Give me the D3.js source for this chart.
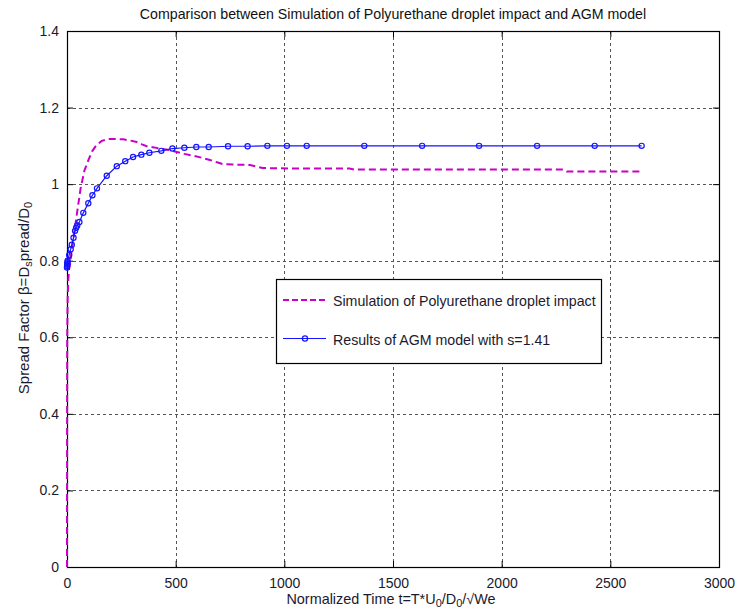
<!DOCTYPE html>
<html>
<head>
<meta charset="utf-8">
<script src="https://cdn.jsdelivr.net/npm/d3@7"></script>
<style>
  html, body { margin: 0; padding: 0; background: #fff; }
  svg { display: block; font-family: "Liberation Sans", Arial, sans-serif; }
</style>
</head>
<body>
<svg id="chart" width="735" height="612"></svg>
<script>
// Simulation of polyurethane droplet impact: normalized time and spread factor
const simTime = [0, 0.3, 0.6, 1, 3, 6, 10, 14, 20, 30, 40, 50, 63, 80, 98, 115, 133, 160, 190, 230, 259, 290, 321, 345, 367, 400, 428, 470, 505, 540, 581, 620, 658, 690, 719, 780, 842, 870, 900, 1041, 1300, 1320, 2284, 2300, 2644];
const simBeta = [0, 0.2, 0.4, 0.6, 0.7, 0.75, 0.78, 0.79, 0.82, 0.86, 0.9, 0.94, 0.99, 1.035, 1.062, 1.085, 1.1, 1.113, 1.118, 1.118, 1.117, 1.114, 1.11, 1.104, 1.099, 1.096, 1.093, 1.089, 1.084, 1.079, 1.074, 1.069, 1.063, 1.057, 1.052, 1.051, 1.05, 1.046, 1.042, 1.041, 1.041, 1.038, 1.038, 1.033, 1.033];

// AGM model results with s = 1.41
const agmTime = [0, 0.5, 1, 1.5, 2, 3, 10, 17, 22, 30, 37, 42, 47, 57, 75, 98, 117, 138, 183, 229, 268, 304, 342, 379, 434, 485, 540, 595, 652, 741, 831, 922, 1012, 1103, 1368, 1634, 1896, 2163, 2428, 2644];
const agmBeta = [0.782, 0.786, 0.79, 0.793, 0.796, 0.8, 0.815, 0.83, 0.842, 0.86, 0.878, 0.886, 0.892, 0.901, 0.925, 0.95, 0.971, 0.989, 1.022, 1.047, 1.06, 1.071, 1.077, 1.082, 1.087, 1.093, 1.095, 1.097, 1.097, 1.099, 1.099, 1.1, 1.1, 1.1, 1.1, 1.1, 1.1, 1.1, 1.1, 1.1];

// Axis ticks
const xTicks = [0, 500, 1000, 1500, 2000, 2500, 3000];
const yTicks = [0, 0.2, 0.4, 0.6, 0.8, 1, 1.2, 1.4];

const titleText = "Comparison between Simulation of Polyurethane droplet impact and AGM model";
const legendLabels = ["Simulation of Polyurethane droplet impact", "Results of AGM model with s=1.41"];

const simColor = "#c800c8";
const agmColor = "#1414ff";
const textColor = "#1a1a2e";

const margin = { left: 67, right: 16, top: 31, bottom: 45 };
const W = 735, H = 612;
const svg = d3.select("#chart");

const x = d3.scaleLinear().domain([0, 3000]).range([margin.left, W - margin.right]);
const y = d3.scaleLinear().domain([0, 1.4]).range([H - margin.bottom, margin.top]);

const x0 = x.range()[0], x1 = x.range()[1];
const y0 = y.range()[0], y1 = y.range()[1];

// Grid lines
const grid = svg.append("g").attr("stroke", "#555").attr("stroke-width", 1).attr("stroke-dasharray", "3,3");
grid.selectAll("line.gx").data(xTicks.slice(1, -1)).join("line")
  .attr("x1", d => Math.round(x(d)) + 0.5).attr("x2", d => Math.round(x(d)) + 0.5)
  .attr("y1", y1).attr("y2", y0);
grid.selectAll("line.gy").data(yTicks.slice(1, -1)).join("line")
  .attr("y1", d => Math.round(y(d)) + 0.5).attr("y2", d => Math.round(y(d)) + 0.5)
  .attr("x1", x0).attr("x2", x1);

// Axes with inward ticks on all four sides
const fmtY = d => d === 0 ? "0" : (d === 1 ? "1" : d3.format(".1f")(d));
const axisStyle = g => {
  g.select(".domain").remove();
  g.selectAll("text").attr("fill", textColor).style("font-size", "14px").style("font-family", "Liberation Sans, Arial, sans-serif");
  g.selectAll("line").attr("stroke", "#000");
};
svg.append("g").attr("transform", `translate(0,${y0})`)
  .call(d3.axisBottom(x).tickValues(xTicks).tickSizeInner(-6).tickSizeOuter(0).tickPadding(11).tickFormat(d3.format("d")))
  .call(axisStyle);
svg.append("g").attr("transform", `translate(0,${y1})`)
  .call(d3.axisTop(x).tickValues(xTicks).tickSizeInner(-6).tickSizeOuter(0).tickFormat(""))
  .call(axisStyle);
svg.append("g").attr("transform", `translate(${x0},0)`)
  .call(d3.axisLeft(y).tickValues(yTicks).tickSizeInner(-6).tickSizeOuter(0).tickPadding(8).tickFormat(fmtY))
  .call(axisStyle);
svg.append("g").attr("transform", `translate(${x1},0)`)
  .call(d3.axisRight(y).tickValues(yTicks).tickSizeInner(-6).tickSizeOuter(0).tickFormat(""))
  .call(axisStyle);

// Plot box
svg.append("rect").attr("x", x0 + 0.5).attr("y", y1 + 0.5)
  .attr("width", x1 - x0).attr("height", y0 - y1)
  .attr("fill", "none").attr("stroke", "#000").attr("stroke-width", 1.2);

// Curves
const simData = simTime.map((t, i) => [t, simBeta[i]]);
const agmData = agmTime.map((t, i) => [t, agmBeta[i]]);
const line = d3.line().x(d => x(d[0])).y(d => y(d[1]));

svg.append("path").datum(simData).attr("d", line)
  .attr("fill", "none").attr("stroke", simColor).attr("stroke-width", 2)
  .attr("stroke-dasharray", "7,4");

svg.append("path").datum(agmData).attr("d", line)
  .attr("fill", "none").attr("stroke", agmColor).attr("stroke-width", 1.2);
svg.append("g").selectAll("circle").data(agmData).join("circle")
  .attr("cx", d => x(d[0])).attr("cy", d => y(d[1])).attr("r", 2.6)
  .attr("fill", "none").attr("stroke", agmColor).attr("stroke-width", 1.2);

// Legend
const lg = svg.append("g");
lg.append("rect").attr("x", 276.5).attr("y", 279.5).attr("width", 325).attr("height", 84)
  .attr("fill", "#fff").attr("stroke", "#000").attr("stroke-width", 1.2);
lg.append("line").attr("x1", 283).attr("x2", 326).attr("y1", 300).attr("y2", 300)
  .attr("stroke", simColor).attr("stroke-width", 2).attr("stroke-dasharray", "6,3");
lg.append("line").attr("x1", 283).attr("x2", 326).attr("y1", 338.5).attr("y2", 338.5)
  .attr("stroke", agmColor).attr("stroke-width", 1.2);
lg.append("circle").attr("cx", 305).attr("cy", 338.5).attr("r", 2.6)
  .attr("fill", "none").attr("stroke", agmColor).attr("stroke-width", 1.2);
lg.selectAll("text").data(legendLabels).join("text")
  .attr("x", 333).attr("y", (d, i) => i === 0 ? 305.5 : 344.5)
  .attr("fill", textColor).style("font-size", "14.2px").text(d => d);

// Title
svg.append("text").attr("x", (x0 + x1) / 2).attr("y", 19).attr("text-anchor", "middle")
  .attr("fill", "#111").style("font-size", "14.2px").text(titleText);

// X label
const xl = svg.append("text").attr("x", 391).attr("y", 604).attr("text-anchor", "middle")
  .attr("fill", textColor).style("font-size", "14.4px");
xl.append("tspan").text("Normalized Time t=T*U");
xl.append("tspan").attr("baseline-shift", "-25%").style("font-size", "11px").text("0");
xl.append("tspan").text("/D");
xl.append("tspan").attr("baseline-shift", "-25%").style("font-size", "11px").text("0");
xl.append("tspan").text("/\u221AWe");

// Y label
const yl = svg.append("text").attr("transform", "translate(29,298) rotate(-90)").attr("text-anchor", "middle")
  .attr("fill", textColor).style("font-size", "15px");
yl.append("tspan").text("Spread Factor \u03B2=D");
yl.append("tspan").attr("baseline-shift", "-25%").style("font-size", "11px").text("s");
yl.append("tspan").text("pread/D");
yl.append("tspan").attr("baseline-shift", "-25%").style("font-size", "11px").text("0");
</script>
</body>
</html>
